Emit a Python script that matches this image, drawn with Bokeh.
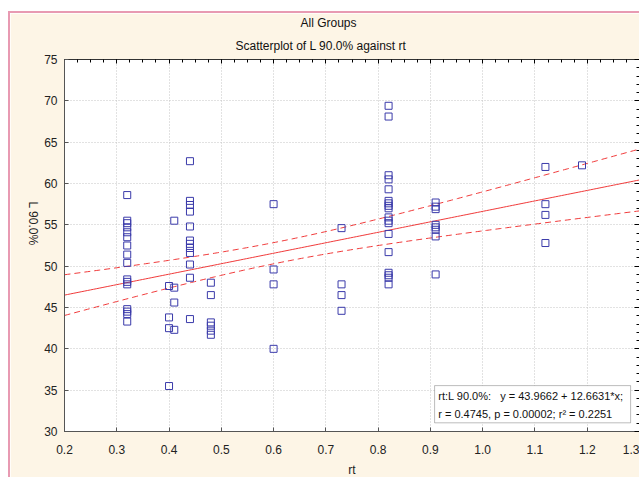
import numpy as np
from bokeh.plotting import figure
from bokeh.models import (LinearAxis, SingleIntervalTicker, PrintfTickFormatter,
                          CustomJSTickFormatter, Range1d, Label, BoxAnnotation,
                          ColumnDataSource, Title)
from bokeh.embed import file_html
from bokeh.resources import INLINE

# ---- data ----
rt_groups = [0.32, 0.40, 0.41, 0.44, 0.48, 0.60, 0.73, 0.82, 0.91, 1.12, 1.19]
l90_groups = [
    [58.6, 55.5, 55.2, 54.7, 54.1, 53.5, 52.5, 51.4, 50.4, 48.4, 48.1, 47.8, 44.8, 44.5, 44.2, 43.3],
    [47.6, 43.8, 42.5, 35.5],
    [55.5, 47.4, 45.6, 42.3],
    [62.7, 57.9, 57.4, 56.6, 54.8, 53.1, 52.7, 52.2, 51.6, 50.2, 48.6, 43.6],
    [48.0, 46.5, 43.2, 42.8, 42.2, 41.7],
    [57.5, 49.6, 47.8, 40.0],
    [54.6, 47.8, 46.5, 44.6],
    [69.4, 68.1, 61.0, 60.5, 59.3, 57.9, 57.6, 57.3, 57.0, 55.9, 55.5, 55.2, 53.9, 51.7, 49.2, 48.9, 48.6, 47.8],
    [57.7, 57.2, 56.9, 55.0, 54.7, 54.4, 53.6, 49.0],
    [62.0, 57.5, 56.2, 52.8],
    [62.2],
]
intercept = 43.9662
slope = 12.6631
r_value = 0.4745
p_value = "0.00002"
r_squared = 0.2251
t_crit = 1.9908
title_main = "All Groups"
title_sub = "Scatterplot of L 90.0% against rt"
x_label = "rt"
y_label = "L 90.0%"
x_ticks = [0.2, 0.3, 0.4, 0.5, 0.6, 0.7, 0.8, 0.9, 1.0, 1.1, 1.2, 1.3]
y_ticks = [30, 35, 40, 45, 50, 55, 60, 65, 70, 75]

xs, ys = [], []
for gx, gy in zip(rt_groups, l90_groups):
    xs += [gx] * len(gy)
    ys += gy
xs = np.array(xs)
ys = np.array(ys)

# regression line and 95% confidence band
n = len(xs)
xbar = xs.mean()
sxx = ((xs - xbar) ** 2).sum()
resid = ys - (intercept + slope * xs)
s = np.sqrt((resid ** 2).sum() / (n - 2))
xl = np.linspace(x_ticks[0], x_ticks[-1], 200)
yl = intercept + slope * xl
hw = t_crit * s * np.sqrt(1.0 / n + (xl - xbar) ** 2 / sxx)

FONT = "Liberation Sans"
RED = "#f03a3a"
BLUE = "#3a3aaa"

p = figure(width=631, height=466, x_range=Range1d(x_ticks[0], x_ticks[-1]),
           y_range=Range1d(y_ticks[0], y_ticks[-1]),
           output_backend="svg", toolbar_location=None,
           min_border_left=54, min_border_right=2, min_border_top=46,
           background_fill_color="white", border_fill_color="#fdf5e6")
p.styles = {"margin-top": "11px", "margin-left": "8px",
            "border-top": "2px solid #e89ab2", "border-left": "2px solid #e89ab2"}
p.outline_line_color = "#333333"

p.xaxis.ticker = SingleIntervalTicker(interval=0.1, num_minor_ticks=0)
p.yaxis.ticker = SingleIntervalTicker(interval=5, num_minor_ticks=0)
p.xaxis.formatter = PrintfTickFormatter(format="%.1f")
for ax in (p.xaxis, p.yaxis):
    ax.major_tick_in = 4
    ax.major_tick_out = 0
    ax.minor_tick_in = 0
    ax.minor_tick_out = 0
    ax.axis_line_color = "#555555"
    ax.major_tick_line_color = "#555555"
    ax.major_label_text_font = FONT
    ax.major_label_text_font_size = "12px"
    ax.major_label_text_color = "#222222"
    ax.axis_label_text_font = FONT
    ax.axis_label_text_font_size = "12px"
    ax.axis_label_text_font_style = "normal"
    ax.axis_label_text_color = "#222222"
p.xaxis.major_label_standoff = 13
p.xaxis.axis_label = x_label
p.xaxis.axis_label_standoff = 6
p.yaxis.major_label_standoff = 7
p.yaxis.axis_label = y_label
p.yaxis.axis_label_standoff = 8
p.yaxis.axis_label_orientation = -np.pi / 2

p.xgrid.grid_line_color = "#c4c4c4"
p.ygrid.grid_line_color = "#c4c4c4"
p.xgrid.grid_line_dash = "1 2"
p.ygrid.grid_line_dash = "1 2"

top_ax = LinearAxis(ticker=SingleIntervalTicker(interval=0.1, num_minor_ticks=4),
                    formatter=CustomJSTickFormatter(code="return ''"),
                    major_label_standoff=0,
                    major_tick_in=4, major_tick_out=0, minor_tick_in=3, minor_tick_out=0,
                    axis_line_color="#333333")
right_ax = LinearAxis(ticker=SingleIntervalTicker(interval=5, num_minor_ticks=5),
                      formatter=CustomJSTickFormatter(code="return ''"),
                      major_label_standoff=0,
                      major_tick_in=5, major_tick_out=0, minor_tick_in=3, minor_tick_out=0,
                      axis_line_color="#333333")
p.add_layout(top_ax, "above")
p.add_layout(right_ax, "right")

# titles (later one is drawn further from the plot)
p.add_layout(Title(text=title_sub, align="left", offset=171, standoff=14,
                   text_font=FONT, text_font_size="12px", text_font_style="normal",
                   text_color="#111111"), "above")
p.add_layout(Title(text=title_main, align="left", offset=236, standoff=0,
                   text_font=FONT, text_font_size="12px", text_font_style="normal",
                   text_color="#111111"), "above")

# band and fit
p.line(xl, yl + hw, color=RED, line_width=1, line_dash="6 4")
p.line(xl, yl - hw, color=RED, line_width=1, line_dash="6 4")
p.line(xl, yl, color=RED, line_width=1)

src = ColumnDataSource(dict(x=xs, y=ys))
p.scatter("x", "y", source=src, marker="square", size=7, fill_color=None,
          line_color=BLUE, line_width=1)

# statistics box
p.add_layout(BoxAnnotation(left=0.908, right=1.283, bottom=31.05, top=35.55,
                           fill_color="white", fill_alpha=1.0,
                           line_color="#222222", line_width=1))
sp = "\u00a0"
line1 = f"rt:L 90.0%:{sp*3}y = {intercept:.4f} + {slope:.4f}*x;"
line2 = f"r = {r_value:.4f}, p = {p_value}; r\u00b2 = {r_squared:.4f}"
p.add_layout(Label(x=0.915, y=34.35, text=line1, text_baseline="middle",
                   text_font=FONT, text_font_size="11px", text_color="#111111"))
p.add_layout(Label(x=0.915, y=32.15, text=line2, text_baseline="middle",
                   text_font=FONT, text_font_size="11px", text_color="#111111"))

open("out.html", "w").write(file_html(p, INLINE))
